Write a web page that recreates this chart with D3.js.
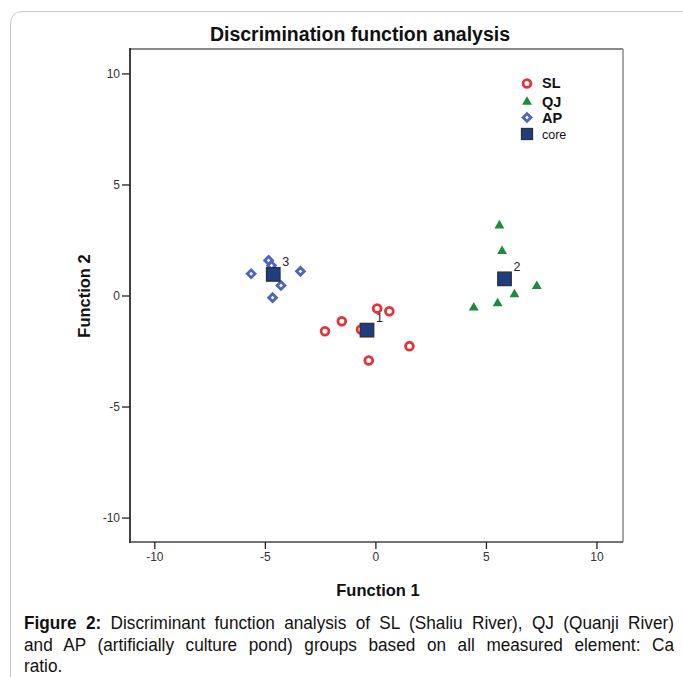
<!DOCTYPE html>
<html><head><meta charset="utf-8">
<script src="https://cdn.jsdelivr.net/npm/d3@7"></script>
<style>body{margin:0;background:#fff}svg{display:block}</style>
</head><body>
<script>
// ---- data ----
const xTicks = [-10, -5, 0, 5, 10];
const yTicks = [-10, -5, 0, 5, 10];
const groups = ["SL", "QJ", "AP"];
const SL = [[0.08,-0.59],[0.63,-0.71],[-1.52,-1.16],[-2.28,-1.61],[-0.65,-1.53],[1.54,-2.28],[-0.30,-2.93]];
const QJ = [[5.61,3.15],[5.73,2.0],[7.30,0.42],[6.29,0.05],[5.53,-0.36],[4.45,-0.55]];
const AP = [[-4.83,1.58],[-4.70,1.35],[-5.62,0.98],[-3.39,1.09],[-4.27,0.45],[-4.65,-0.10]];
const cores = [{id:"1",x:-0.38,y:-1.56},{id:"2",x:5.84,y:0.75},{id:"3",x:-4.62,y:0.95}];
const title = "Discrimination function analysis";
const xLabel = "Function 1", yLabel = "Function 2";
const captionLines = [
  ["Figure 2:", " Discriminant function analysis of SL (Shaliu River), QJ (Quanji River)"],
  ["", "and AP (artificially culture pond) groups based on all measured element: Ca"],
  ["", "ratio."]
];

const W = 683, H = 677;
const svg = d3.select("body").append("svg").attr("width", W).attr("height", H);
const ff = "Liberation Sans, Arial, sans-serif";

// card border
svg.append("path").attr("d", "M10.5,677 L10.5,24 Q10.5,11.5 23,11.5 L683,11.5")
  .attr("fill","none").attr("stroke","#c9c9c9").attr("stroke-width",1);

const L = 130, R = 623, T = 49, B = 542;
const x = d3.scaleLinear().domain([-11.1, 11.2]).range([L, R]);
const y = d3.scaleLinear().domain([-11.1, 11.1]).range([B, T]);

// title
svg.append("text").attr("x", 360).attr("y", 41).attr("text-anchor","middle")
  .attr("font-family", ff).attr("font-weight","bold").attr("font-size", 19.5).attr("fill","#111").text(title);

// frame
svg.append("line").attr("x1",L).attr("x2",R).attr("y1",T).attr("y2",T).attr("stroke","#8a8a8a").attr("stroke-width",2);
svg.append("line").attr("x1",R).attr("x2",R).attr("y1",T).attr("y2",B).attr("stroke","#8a8a8a").attr("stroke-width",1.5);
svg.append("line").attr("x1",L).attr("x2",L).attr("y1",T-1).attr("y2",B+1).attr("stroke","#111").attr("stroke-width",1.6);
svg.append("line").attr("x1",L).attr("x2",R).attr("y1",B).attr("y2",B).attr("stroke","#444").attr("stroke-width",1.4);

// axes
const gx = svg.append("g").attr("transform",`translate(0,${B})`)
  .call(d3.axisBottom(x).tickValues(xTicks).tickSize(7).tickPadding(3).tickFormat(d3.format("d")));
const gy = svg.append("g").attr("transform",`translate(${L},0)`)
  .call(d3.axisLeft(y).tickValues(yTicks).tickSize(8).tickPadding(2).tickFormat(d3.format("d")));
[gx, gy].forEach(g => {
  g.select(".domain").remove();
  g.selectAll(".tick line").attr("stroke","#222").attr("stroke-width",1.3);
  g.selectAll(".tick text").attr("font-family", ff).attr("font-size", 12).attr("fill","#333");
});
gx.selectAll(".tick text").text(d => d < 0 ? "-" + Math.abs(d) : d);
gy.selectAll(".tick text").text(d => d < 0 ? "-" + Math.abs(d) : d);

// axis labels
svg.append("text").attr("x", 378).attr("y", 596).attr("text-anchor","middle")
  .attr("font-family", ff).attr("font-weight","bold").attr("font-size", 16.5).attr("fill","#111").text(xLabel);
svg.append("text").attr("transform","translate(90,296) rotate(-90)").attr("text-anchor","middle")
  .attr("font-family", ff).attr("font-weight","bold").attr("font-size", 16.5).attr("fill","#111").text(yLabel);

// markers
const red = "#e3343c", green = "#1d8a3e", blue = "#4b63c3", navy = "#1f3f7c";
function drawSL(g, px, py) {
  g.append("circle").attr("cx",px).attr("cy",py).attr("r",3.9).attr("fill","#fff").attr("stroke",red).attr("stroke-width",2.8);
}
function drawQJ(g, px, py) {
  g.append("path").attr("d", d3.symbol(d3.symbolTriangle, 42)()).attr("transform",`translate(${px},${py})`).attr("fill",green);
}
function drawAP(g, px, py) {
  g.append("path").attr("d", d3.symbol(d3.symbolSquare, 30)()).attr("transform",`translate(${px},${py}) rotate(45)`)
    .attr("fill","#fff").attr("stroke",blue).attr("stroke-width",2.8);
}
function drawCore(g, px, py, s) {
  g.append("rect").attr("x",px-s/2).attr("y",py-s/2).attr("width",s).attr("height",s)
    .attr("fill",navy).attr("stroke","#2a2f38").attr("stroke-width",1.3);
}
const gp = svg.append("g");
SL.forEach(d => drawSL(gp, x(d[0]), y(d[1])));
QJ.forEach(d => drawQJ(gp, x(d[0]), y(d[1])));
AP.forEach(d => drawAP(gp, x(d[0]), y(d[1])));
cores.forEach(c => {
  drawCore(gp, x(c.x), y(c.y), 13.5);
  gp.append("text").attr("x", x(c.x)+9).attr("y", y(c.y)-8).attr("font-family", ff).attr("font-size", 12.5).attr("fill","#222").text(c.id);
});

// legend
const lg = svg.append("g");
const lx = 527;
drawSL(lg, lx, 83.5);
drawQJ(lg, lx, 102);
drawAP(lg, lx, 117.5);
drawCore(lg, lx, 134, 11);
[["SL",88,true],["QJ",106.5,true],["AP",123,true],["core",139,false]].forEach(([t,yy,b]) => {
  lg.append("text").attr("x", 542).attr("y", yy).attr("font-family", ff)
    .attr("font-weight", b ? "bold" : "normal").attr("font-size", b ? 14.5 : 12.5).attr("fill","#111").text(t);
});

// caption (slightly condensed Liberation Sans, justified)
const sx = 0.93, capX = 24, capW = 650;
const capY = [629, 651, 672];
const cg = svg.append("g").attr("transform", `translate(${capX},0) scale(${sx},1)`);
captionLines.forEach((ln, i) => {
  const t = cg.append("text").attr("x", 0).attr("y", capY[i]).attr("font-family", ff).attr("font-size", 18.5).attr("fill","#111");
  if (ln[0]) t.append("tspan").attr("font-weight","bold").text(ln[0]);
  t.append("tspan").text(ln[1]);
  if (i < 2) {
    const target = capW / sx;
    const nat = t.node().getComputedTextLength();
    const spaces = (ln[0] + ln[1]).split(" ").length - 1;
    if (spaces > 0) t.attr("word-spacing", (target - nat) / spaces);
  }
});
</script>
</body></html>
